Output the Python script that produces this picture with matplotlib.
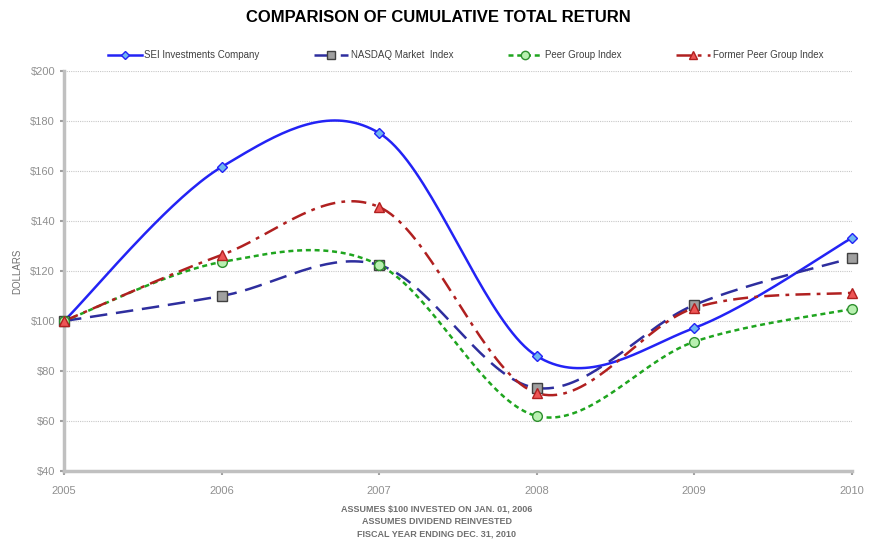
import numpy as np
import matplotlib.pyplot as plt
from matplotlib.lines import Line2D

years = [2005, 2006, 2007, 2008, 2009, 2010]
sei = [100, 161.6, 175.2, 86.0, 97.2, 133.2]
nasdaq = [100, 110.0, 122.4, 73.2, 106.4, 125.2]
peer = [100, 123.6, 122.4, 62.0, 91.7, 104.8]
former = [100, 126.4, 145.6, 71.2, 105.2, 111.3]

series_names = ["SEI Investments Company", "NASDAQ Market  Index",
                "Peer Group Index", "Former Peer Group Index"]


def smooth(xs, ys, n=40):
    # Excel-style smoothed line (Catmull-Rom as cubic Bezier)
    pts = np.column_stack([xs, ys]).astype(float)
    out = []
    for i in range(len(pts) - 1):
        p0 = pts[i - 1] if i > 0 else pts[i]
        p1 = pts[i]
        p2 = pts[i + 1]
        p3 = pts[i + 2] if i + 2 < len(pts) else pts[i + 1]
        c1 = p1 + (p2 - p0) / 6.0
        c2 = p2 - (p3 - p1) / 6.0
        t = np.linspace(0, 1, n)[:, None]
        seg = ((1 - t) ** 3) * p1 + 3 * ((1 - t) ** 2) * t * c1 + 3 * (1 - t) * t ** 2 * c2 + t ** 3 * p2
        out.append(seg if i == 0 else seg[1:])
    seg = np.vstack(out)
    return seg[:, 0], seg[:, 1]


plt.rcParams['font.family'] = ['Liberation Sans', 'DejaVu Sans']
fig = plt.figure(figsize=(8.7, 5.42), dpi=100)
ax = fig.add_axes([0.0736, 0.131, 0.9054, 0.738])

styles = [
    dict(color="#2323f5", ls="-", lw=1.8, marker="D", ms=5, mfc="#6fb7f0", mec="#2323f5"),
    dict(color="#2e2e9e", ls=(0, (7, 3.5)), lw=1.8, marker="s", ms=6.5, mfc="#a0a0a0", mec="#404040"),
    dict(color="#1fa51f", ls=(0, (2, 1.5)), lw=1.8, marker="o", ms=7, mfc="#b8f0b0", mec="#2f8f2f"),
    dict(color="#b02020", ls=(0, (6, 2.5, 1.5, 2.5)), lw=1.8, marker="^", ms=7, mfc="#ee5555", mec="#b02020"),
]

handles = []
for ys, st, name in zip([sei, nasdaq, peer, former], styles, series_names):
    sx, sy = smooth(years, ys)
    ax.plot(sx, sy, color=st["color"], ls=st["ls"], lw=st["lw"], zorder=2, clip_on=False)
    ax.plot(years, ys, ls="none", marker=st["marker"], ms=st["ms"],
            mfc=st["mfc"], mec=st["mec"], mew=1.0, zorder=3, clip_on=False)
    handles.append(Line2D([], [], color=st["color"], ls=st["ls"], lw=st["lw"],
                          marker=st["marker"], ms=st["ms"] - 1, mfc=st["mfc"], mec=st["mec"]))

ax.set_xlim(2005, 2010)
ax.set_ylim(40, 200)
ax.set_xticks(years)
ax.set_yticks(np.arange(40, 201, 20))
ax.set_yticklabels([f"${v}" for v in range(40, 201, 20)])
ax.tick_params(colors="#a0a0a0", labelsize=8, length=3, width=1.5, labelcolor="#909090")
ax.tick_params(axis="x", pad=8)
ax.grid(axis="y", ls=(0, (1, 1)), color="#c8c8c8", lw=0.8)
for s in ["top", "right"]:
    ax.spines[s].set_visible(False)
for s in ["left", "bottom"]:
    ax.spines[s].set_color("#c0c0c0")
    ax.spines[s].set_linewidth(2.5)
ax.set_ylabel("DOLLARS", fontsize=7, color="#707070", labelpad=6)

fig.text(0.504, 0.967, "COMPARISON OF CUMULATIVE TOTAL RETURN", ha="center", va="center",
         fontsize=12, fontweight="bold", color="black")
fig.legend(handles=handles, labels=series_names, loc="center", bbox_to_anchor=(0.535, 0.898),
           ncol=4, frameon=False, fontsize=7, handlelength=3.5, columnspacing=5.6, handletextpad=0.3,
           labelcolor="#404040")

foot = "ASSUMES $100 INVESTED ON JAN. 01, 2006\nASSUMES DIVIDEND REINVESTED\nFISCAL YEAR ENDING DEC. 31, 2010"
fig.text(0.502, 0.038, foot, ha="center", va="center", fontsize=6.5, color="#707070",
         fontweight="bold", linespacing=1.5)

fig.savefig("out.png", dpi=100)
